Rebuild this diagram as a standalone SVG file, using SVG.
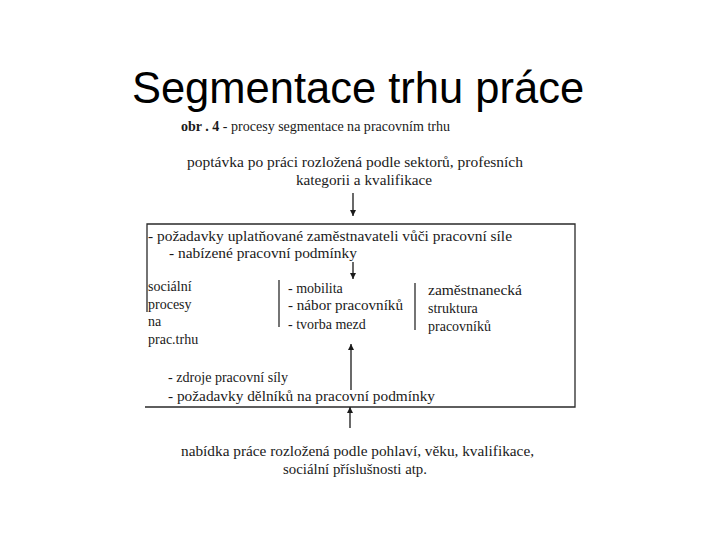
<svg xmlns="http://www.w3.org/2000/svg" width="720" height="540" viewBox="0 0 720 540">
<style>
.t{font-family:'Liberation Serif','DejaVu Serif','Times New Roman',serif;font-size:14px;fill:#1a1a1a}
.b{font-weight:bold}
.ln{stroke:#2a2a2a;stroke-width:1.3;fill:none}
.ar{stroke:#1a1a1a;stroke-width:1.3;fill:none;marker-end:url(#ah)}
</style>
<defs>
<marker id="ah" viewBox="0 0 10 10" refX="10" refY="5" markerWidth="6" markerHeight="6" markerUnits="userSpaceOnUse" orient="auto">
<path d="M0,0 L10,5 L0,10 z" fill="#1a1a1a"/>
</marker>
</defs>
<rect width="720" height="540" fill="#ffffff"/>
<g id="title">
<text x="358" y="103" text-anchor="middle" font-family="'Liberation Sans',Arial,sans-serif" font-size="43.5" fill="#000">Segmentace trhu práce</text>
</g>
<g id="caption">
<text class="t" x="181" y="131" textLength="269" lengthAdjust="spacingAndGlyphs"><tspan class="b">obr . 4</tspan> - procesy segmentace na pracovním trhu</text>
</g>
<g id="demand">
<text class="t" x="187" y="167" textLength="336" lengthAdjust="spacingAndGlyphs">poptávka po práci rozložená podle sektorů, profesních</text>
<text class="t" x="296" y="185" textLength="136" lengthAdjust="spacingAndGlyphs">kategorii a kvalifikace</text>
</g>
<g id="market-box">
<path class="ln" d="M147,312 V224 H575 V407 H145"/>
<text class="t" x="148" y="241" textLength="364" lengthAdjust="spacingAndGlyphs">- požadavky uplatňované zaměstnavateli vůči pracovní síle</text>
<text class="t" x="169" y="258" textLength="188" lengthAdjust="spacingAndGlyphs">- nabízené pracovní podmínky</text>
</g>
<g id="social-processes">
<text class="t" x="148" y="291">sociální</text>
<text class="t" x="148" y="309">procesy</text>
<text class="t" x="148" y="326">na</text>
<text class="t" x="148" y="344">prac.trhu</text>
</g>
<g id="processes">
<line class="ln" x1="279" y1="280" x2="279" y2="327"/>
<text class="t" x="288" y="293">- mobilita</text>
<text class="t" x="288" y="310" textLength="115" lengthAdjust="spacingAndGlyphs">- nábor pracovníků</text>
<text class="t" x="288" y="329">- tvorba mezd</text>
<line class="ln" x1="415" y1="283" x2="415" y2="330"/>
</g>
<g id="structure">
<text class="t" x="428" y="295" textLength="94" lengthAdjust="spacingAndGlyphs">zaměstnanecká</text>
<text class="t" x="428" y="313">struktura</text>
<text class="t" x="428" y="331">pracovníků</text>
</g>
<g id="labour-supply-requirements">
<text class="t" x="168" y="382" textLength="120" lengthAdjust="spacingAndGlyphs">- zdroje pracovní síly</text>
<text class="t" x="168" y="401" textLength="267" lengthAdjust="spacingAndGlyphs">- požadavky dělníků na pracovní podmínky</text>
</g>
<g id="supply">
<text class="t" x="181" y="456" textLength="353" lengthAdjust="spacingAndGlyphs">nabídka práce rozložená podle pohlaví, věku, kvalifikace,</text>
<text class="t" x="283" y="474" textLength="144" lengthAdjust="spacingAndGlyphs">sociální příslušnosti atp.</text>
</g>
<g id="connectors">
<line class="ar" x1="353" y1="193" x2="353" y2="216"/>
<line class="ar" x1="353" y1="262" x2="353" y2="279"/>
<line class="ar" x1="351" y1="390" x2="351" y2="344"/>
<line class="ar" x1="350" y1="428" x2="350" y2="407"/>
</g>
</svg>
